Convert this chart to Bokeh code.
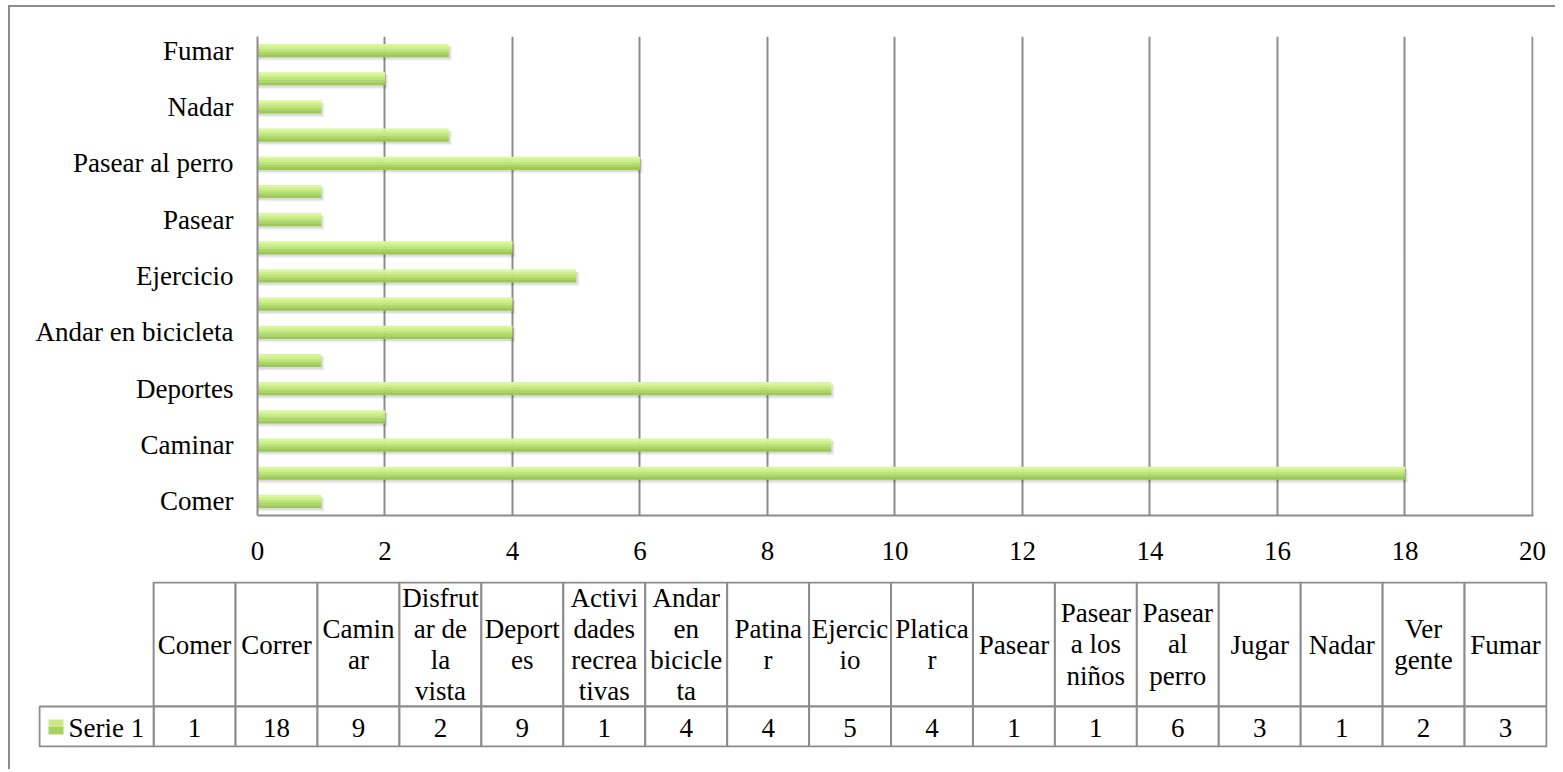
from bokeh.plotting import figure
from bokeh.models import Range1d, FixedTicker, ColumnDataSource
from bokeh.transform import dodge
from bokeh.core.properties import value
from bokeh.embed import file_html
from bokeh.resources import INLINE

# ---- data ----
categories = ["Comer", "Correr", "Caminar", "Disfrutar de la vista", "Deportes",
              "Actividades recreativas", "Andar en bicicleta", "Patinar", "Ejercicio",
              "Platicar", "Pasear", "Pasear a los niños", "Pasear al perro", "Jugar",
              "Nadar", "Ver gente", "Fumar"]
values = [1, 18, 9, 2, 9, 1, 4, 4, 5, 4, 1, 1, 6, 3, 1, 2, 3]
header_labels = ["Comer", "Correr", "Camin\nar", "Disfrut\nar de\nla\nvista", "Deport\nes",
                 "Activi\ndades\nrecrea\ntivas", "Andar\nen\nbicicle\nta", "Patina\nr",
                 "Ejercic\nio", "Platica\nr", "Pasear", "Pasear\na los\nniños",
                 "Pasear\nal\nperro", "Jugar", "Nadar", "Ver\ngente", "Fumar"]
series_name = "Serie 1"
x_ticks = [0, 2, 4, 6, 8, 10, 12, 14, 16, 18, 20]

FONT = "Liberation Serif"
FS = "27px"
GRAY = "#8c8c8c"
n = len(categories)

src = ColumnDataSource(dict(
    y=list(range(n)),
    value=values,
    cat=categories,
    x=[i + 0.5 for i in range(n)],
    head=header_labels,
    vtxt=[str(v) for v in values],
))

# ---- chart ----
p1 = figure(width=1547, height=565, x_range=Range1d(0, 20.016), y_range=Range1d(-0.5, 16.5),
            output_backend="svg", toolbar_location=None,
            min_border_left=247, min_border_right=24, min_border_top=29, min_border_bottom=57,
            styles={"border-left": f"2px solid {GRAY}", "border-top": f"2px solid {GRAY}",
                    "margin-left": "8px", "margin-top": "5px"})
p1.outline_line_color = None
p1.ygrid.visible = False
p1.xgrid.ticker = FixedTicker(ticks=x_ticks)
p1.xgrid.grid_line_color = GRAY
p1.xgrid.grid_line_width = 2

bh = 0.46
# shadow
p1.hbar(y=dodge("y", -0.11), left=0, right=dodge("value", 0.05), height=bh + 0.04,
        source=src, fill_color="#000000", fill_alpha=0.05, line_color=None)
p1.hbar(y=dodge("y", -0.08), left=0, right=dodge("value", 0.03), height=bh,
        source=src, fill_color="#000000", fill_alpha=0.09, line_color=None)
# gradient stripes (top -> bottom)
stripe_colors = ["#d9f89b", "#ccf08a", "#bee47b", "#acd768", "#9cc955"]
k = len(stripe_colors)
sh = bh / k
for j, c in enumerate(stripe_colors):
    off = bh / 2 - sh * (j + 0.5)
    p1.hbar(y=dodge("y", off), left=0, right="value", height=sh * 1.08, source=src,
            fill_color=c, line_color=None)

p1.xaxis.ticker = FixedTicker(ticks=x_ticks)
p1.yaxis.ticker = FixedTicker(ticks=[i for i in range(n) if i % 2 == 0])
p1.yaxis.major_label_overrides = {i: categories[i] for i in range(n) if i % 2 == 0}
for ax in (p1.xaxis[0], p1.yaxis[0]):
    ax.axis_line_color = GRAY
    ax.axis_line_width = 2
    ax.major_tick_line_color = None
    ax.minor_tick_line_color = None
    ax.major_tick_out = 0
    ax.major_tick_in = 0
    ax.major_label_text_font = FONT
    ax.major_label_text_font_size = FS
    ax.major_label_text_color = "#000000"
p1.yaxis.major_label_standoff = 24
p1.xaxis.major_label_standoff = 26

# ---- data table ----
leg_w = 1.393
pad_x = 1 / 81.82
p2 = figure(width=1547, height=199, x_range=Range1d(-leg_w - pad_x, n + pad_x),
            y_range=Range1d(-1, 165), output_backend="svg", toolbar_location=None,
            min_border_left=28, min_border_right=10, min_border_top=11, min_border_bottom=22,
            styles={"border-left": f"2px solid {GRAY}", "margin-left": "8px"})
p2.axis.visible = False
p2.grid.visible = False
p2.outline_line_color = None

p2.quad(left="y", right=dodge("y", 1), bottom=40, top=164, source=src,
        fill_color="white", line_color=GRAY, line_width=2)
p2.quad(left="y", right=dodge("y", 1), bottom=0, top=40, source=src,
        fill_color="white", line_color=GRAY, line_width=2)
p2.quad(left=[-leg_w], right=[0], bottom=[0], top=[40],
        fill_color="white", line_color=GRAY, line_width=2)

p2.text(x="x", y=102, text="head", source=src, text_align="center", text_baseline="middle",
        text_font=value(FONT), text_font_size=FS, text_line_height=1.04, text_color="#000000")
p2.text(x="x", y=19, text="vtxt", source=src, text_align="center", text_baseline="middle",
        text_font=value(FONT), text_font_size=FS, text_color="#000000")

# legend key
p2.quad(left=[-leg_w + 0.11], right=[-leg_w + 0.293], bottom=[19.5], top=[27],
        fill_color="#c9ea86", line_color=None)
p2.quad(left=[-leg_w + 0.11], right=[-leg_w + 0.293], bottom=[12], top=[19.5],
        fill_color="#a8d062", line_color=None)
p2.text(x=[-leg_w + 0.355], y=[19], text=[series_name], text_align="left",
        text_baseline="middle", text_font=value(FONT), text_font_size=FS,
        text_color="#000000")

open("out.html", "w").write(file_html([p1, p2], INLINE))
